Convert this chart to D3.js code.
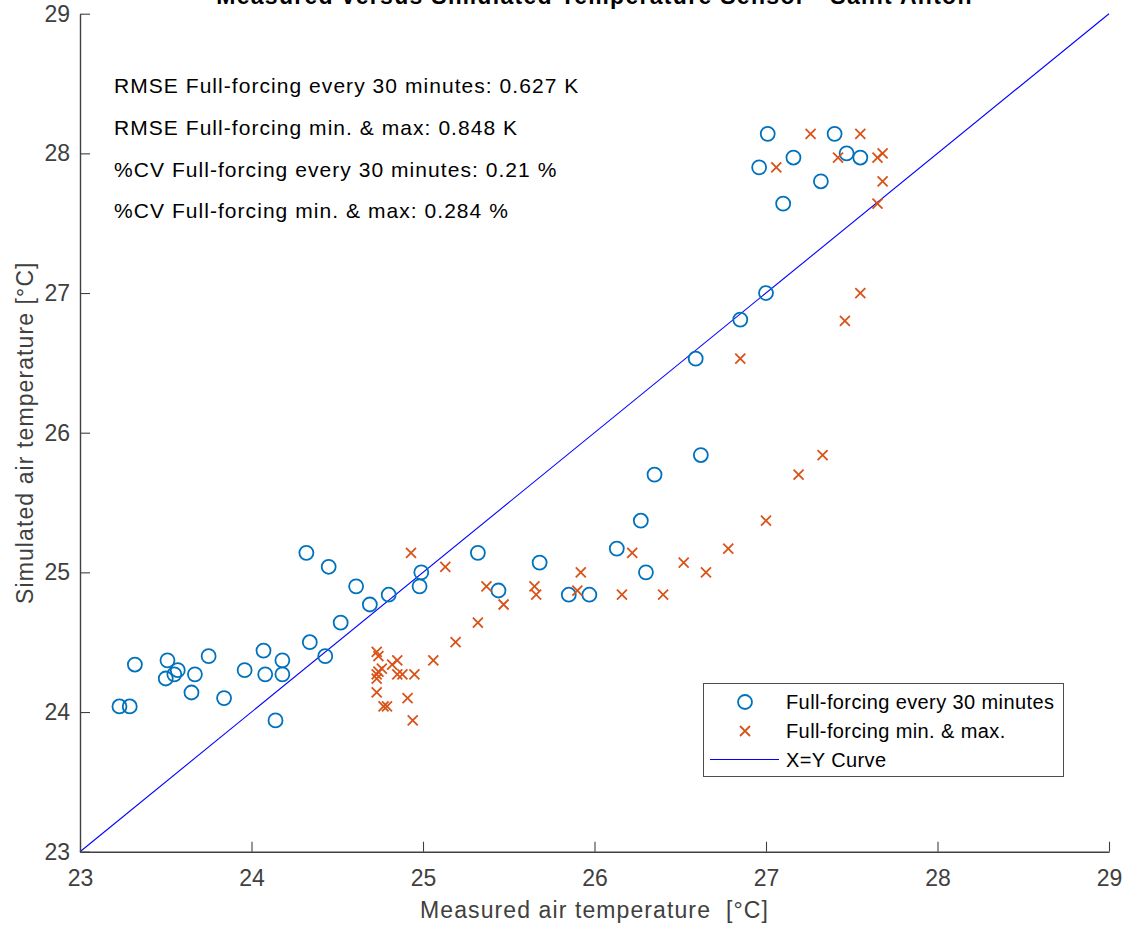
<!DOCTYPE html>
<html>
<head>
<meta charset="utf-8">
<script src="https://cdn.jsdelivr.net/npm/d3@7"></script>
<style>
  body { margin: 0; background: #fff; }
  svg { display: block; font-family: "Liberation Sans", Arial, sans-serif; }
  text { white-space: pre; }
</style>
</head>
<body>
<svg id="chart" width="1129" height="927"></svg>
<script>
// Full-forcing every 30 minutes (circles)
var measuredFull = [23.23, 23.29, 23.32, 23.50, 23.51, 23.55, 23.57, 23.65, 23.67, 23.75,
    23.84, 23.96, 24.07, 24.08, 24.14, 24.18, 24.18, 24.32, 24.34, 24.43,
    24.45, 24.52, 24.61, 24.69, 24.80, 24.98, 24.99, 25.32, 25.44, 25.68,
    25.85, 25.97, 26.13, 26.27, 26.30, 26.35, 26.59, 26.62, 26.85, 27.00,
    26.96, 27.01, 27.10, 27.16, 27.32, 27.40, 27.47, 27.55];
var simulatedFull = [24.04, 24.04, 24.34, 24.24, 24.37, 24.27, 24.30, 24.14, 24.27, 24.40,
    24.10, 24.30, 24.44, 24.27, 23.94, 24.37, 24.27, 25.14, 24.50, 24.40,
    25.04, 24.64, 24.90, 24.77, 24.84, 24.90, 25.00, 25.14, 24.87, 25.07,
    24.84, 24.84, 25.17, 25.37, 25.00, 25.70, 26.53, 25.84, 26.81, 27.00,
    27.90, 28.14, 27.64, 27.97, 27.80, 28.14, 28.00, 27.97];

// Full-forcing min. & max. (crosses)
var measuredMinMax = [24.73, 24.74, 24.85, 24.82, 24.76, 24.74, 24.73, 24.85, 24.88, 24.95,
    24.73, 24.73, 24.91, 24.77, 24.79, 24.94, 25.06, 25.19, 25.32, 25.47,
    25.37, 24.93, 25.13, 25.65, 25.66, 25.92, 25.90, 26.16, 26.40, 26.22,
    26.52, 26.65, 26.78, 27.00, 27.19, 27.33, 26.85, 27.46, 27.55, 27.26,
    27.55, 27.06, 27.42, 27.65, 27.68, 27.68, 27.65];
var simulatedMinMax = [24.43, 24.40, 24.37, 24.34, 24.31, 24.29, 24.27, 24.27, 24.27, 24.27,
    24.24, 24.14, 24.10, 24.04, 24.04, 23.94, 24.37, 24.50, 24.64, 24.77,
    24.90, 25.14, 25.04, 24.90, 24.84, 25.00, 24.87, 24.84, 24.84, 25.14,
    25.07, 25.00, 25.17, 25.37, 25.70, 25.84, 26.53, 26.80, 27.00, 28.14,
    28.14, 27.90, 27.97, 27.97, 28.00, 27.80, 27.64];

var xTicks = [23, 24, 25, 26, 27, 28, 29];
var yTicks = [23, 24, 25, 26, 27, 28, 29];
var identityLine = [23, 29];

var statsLines = [
    "RMSE Full-forcing every 30 minutes: 0.627 K",
    "RMSE Full-forcing min. & max: 0.848 K",
    "%CV Full-forcing every 30 minutes: 0.21 %",
    "%CV Full-forcing min. & max: 0.284 %"
];
var legendLabels = ["Full-forcing every 30 minutes", "Full-forcing min. & max.", "X=Y Curve"];

var titleText = "Measured versus Simulated Temperature Sensor - Saint Anton";
var xLabel = "Measured air temperature  [\u00B0C]";
var yLabel = "Simulated air temperature [\u00B0C]";

var axisColor = "#404040";
var blue = "#0072BD", orange = "#D95319";

var svg = d3.select("#chart");

// Plot area (pixels)
var plot = { left: 80, right: 1109, top: 13.7, bottom: 851.7 };

var x = d3.scaleLinear().domain([23, 29]).range([plot.left, plot.right]);
var y = d3.scaleLinear().domain([23, 29]).range([plot.bottom, plot.top]);

// Title (cut off by the top of the page)
svg.append("text")
    .attr("x", (plot.left + plot.right) / 2)
    .attr("y", 4)
    .attr("text-anchor", "middle")
    .style("font-size", "23px")
    .style("font-weight", "bold")
    .style("letter-spacing", "1.3px")
    .attr("fill", "#000")
    .text(titleText);

// X=Y line
svg.append("line")
    .attr("x1", x(identityLine[0])).attr("y1", y(identityLine[0]))
    .attr("x2", x(identityLine[1])).attr("y2", y(identityLine[1]))
    .attr("stroke", "#0000ff")
    .attr("stroke-width", 1.1);

// Circles
svg.append("g").selectAll("circle")
    .data(measuredFull.map(function(d, i) { return [d, simulatedFull[i]]; }))
    .enter()
    .append("circle")
    .attr("cx", function(d) { return x(d[0]); })
    .attr("cy", function(d) { return y(d[1]); })
    .attr("r", 7)
    .attr("fill", "none")
    .attr("stroke", blue)
    .attr("stroke-width", 1.8);

// Crosses
var cross = "M-5,-5L5,5M-5,5L5,-5";
svg.append("g").selectAll("path")
    .data(measuredMinMax.map(function(d, i) { return [d, simulatedMinMax[i]]; }))
    .enter()
    .append("path")
    .attr("transform", function(d) { return "translate(" + x(d[0]) + "," + y(d[1]) + ")"; })
    .attr("d", cross)
    .attr("fill", "none")
    .attr("stroke", orange)
    .attr("stroke-width", 1.8);

// Axes: inward ticks, no box
var xAxis = d3.axisBottom(x).tickValues(xTicks).tickFormat(d3.format("d"))
    .tickSizeInner(-10).tickSizeOuter(0).tickPadding(18);
var yAxis = d3.axisLeft(y).tickValues(yTicks).tickFormat(d3.format("d"))
    .tickSizeInner(-10).tickSizeOuter(0).tickPadding(10);

var gx = svg.append("g")
    .attr("transform", "translate(0," + plot.bottom + ")")
    .call(xAxis);
var gy = svg.append("g")
    .attr("transform", "translate(" + plot.left + ",0)")
    .call(yAxis);

[gx, gy].forEach(function(g) {
    g.select(".domain").attr("stroke", axisColor).attr("stroke-width", 1.4);
    g.selectAll(".tick line").attr("stroke", axisColor).attr("stroke-width", 1.1);
    g.selectAll(".tick text")
        .attr("fill", axisColor)
        .style("font-family", "'Liberation Sans', Arial, sans-serif")
        .style("font-size", "23px");
});

// Axis labels
svg.append("text")
    .attr("x", (plot.left + plot.right) / 2)
    .attr("y", 918)
    .attr("text-anchor", "middle")
    .attr("fill", axisColor)
    .style("font-size", "23px")
    .style("letter-spacing", "1.1px")
    .text(xLabel);

svg.append("text")
    .attr("transform", "translate(33," + (plot.top + plot.bottom) / 2 + ") rotate(-90)")
    .attr("text-anchor", "middle")
    .attr("fill", axisColor)
    .style("font-size", "23px")
    .style("letter-spacing", "1.1px")
    .text(yLabel);

// Stats text
svg.append("g").selectAll("text")
    .data(statsLines)
    .enter()
    .append("text")
    .attr("x", 114)
    .attr("y", function(d, i) { return 93 + i * 41.8; })
    .attr("fill", "#000")
    .style("font-size", "21px")
    .style("letter-spacing", "1.05px")
    .text(function(d) { return d; });

// Legend
var legend = svg.append("g");
legend.append("rect")
    .attr("x", 703.5).attr("y", 683.5)
    .attr("width", 360).attr("height", 93)
    .attr("fill", "#fff")
    .attr("stroke", "#4d4d4d")
    .attr("stroke-width", 1);

var rowY = [702, 731, 759.5];
legend.append("circle")
    .attr("cx", 745).attr("cy", rowY[0]).attr("r", 7)
    .attr("fill", "none").attr("stroke", blue).attr("stroke-width", 1.8);
legend.append("path")
    .attr("transform", "translate(745," + rowY[1] + ")")
    .attr("d", cross)
    .attr("fill", "none").attr("stroke", orange).attr("stroke-width", 1.8);
legend.append("line")
    .attr("x1", 710).attr("x2", 779)
    .attr("y1", rowY[2]).attr("y2", rowY[2])
    .attr("stroke", "#0000ff").attr("stroke-width", 1.1);

legend.selectAll("text.label")
    .data(legendLabels)
    .enter()
    .append("text")
    .attr("class", "label")
    .attr("x", 786)
    .attr("y", function(d, i) { return rowY[i] + 7; })
    .attr("fill", "#000")
    .style("font-size", "20px")
    .style("letter-spacing", "0.4px")
    .text(function(d) { return d; });
</script>
</body>
</html>
